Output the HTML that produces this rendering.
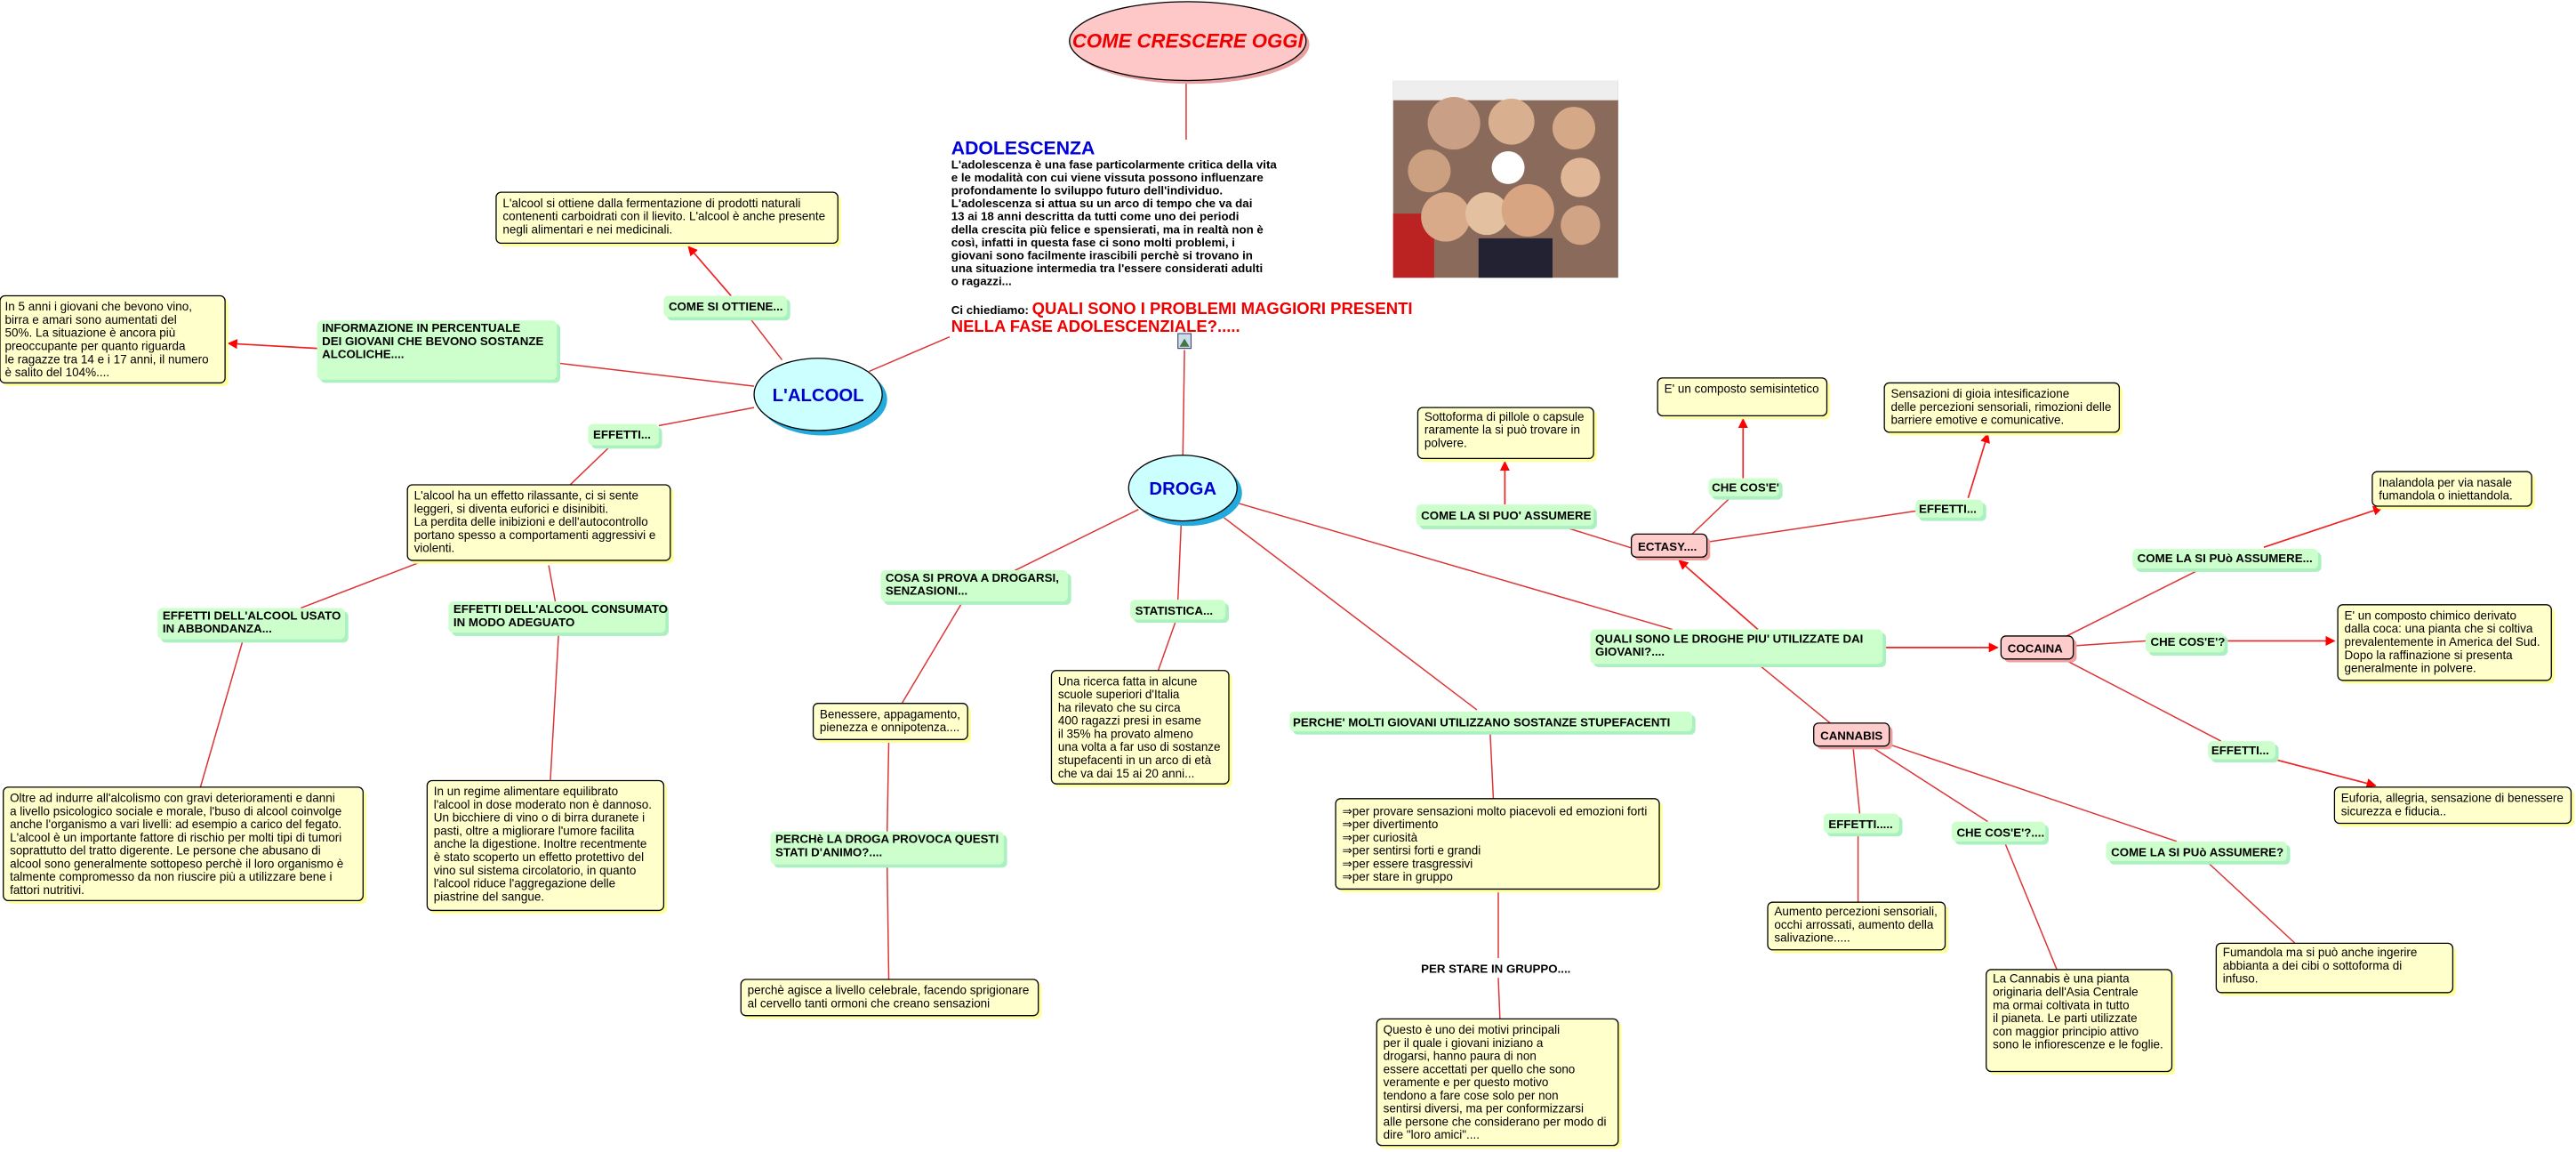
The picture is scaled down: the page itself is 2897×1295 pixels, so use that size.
<!DOCTYPE html>
<html><head><meta charset="utf-8"><style>
html,body{margin:0;padding:0;background:#fff;}
svg{display:block;}
.t{font-family:"Liberation Sans",sans-serif;font-size:7.3px;fill:#000;}
.g{font-family:"Liberation Sans",sans-serif;font-size:7.2px;font-weight:bold;fill:#000;}
.b{font-family:"Liberation Sans",sans-serif;font-size:7.2px;font-weight:bold;fill:#000;}
</style></head><body>
<svg width="2897" height="1295" viewBox="0 0 1568 701" preserveAspectRatio="none" xmlns="http://www.w3.org/2000/svg">
<defs>
<marker id="ar" viewBox="0 0 10 10" refX="9" refY="5" markerWidth="6" markerHeight="6" orient="auto" markerUnits="userSpaceOnUse"><path d="M0,0 L10,5 L0,10 z" fill="#f00"/></marker>
</defs>
<g stroke="#d33" stroke-width="0.8" fill="none">
<line x1="722" y1="49" x2="722" y2="85"/>
<line x1="721" y1="213" x2="720" y2="277"/>
<line x1="529" y1="226" x2="578" y2="205"/>
<line x1="476" y1="219" x2="456" y2="193"/>
<line x1="340" y1="221" x2="459" y2="235"/>
<line x1="401" y1="259" x2="459" y2="248"/>
<line x1="372" y1="271" x2="346" y2="296"/>
<line x1="183" y1="370" x2="256" y2="342"/>
<line x1="334" y1="344" x2="338" y2="366"/>
<line x1="148" y1="389" x2="122" y2="479"/>
<line x1="340" y1="386" x2="335" y2="475"/>
<line x1="693" y1="310" x2="614" y2="349"/>
<line x1="586" y1="366" x2="549" y2="428"/>
<line x1="541" y1="451" x2="540" y2="506"/>
<line x1="540" y1="527" x2="541" y2="596"/>
<line x1="719" y1="318" x2="717" y2="365"/>
<line x1="716" y1="377" x2="705" y2="408"/>
<line x1="745" y1="315" x2="899" y2="432"/>
<line x1="907" y1="445" x2="909" y2="486"/>
<line x1="912" y1="543" x2="912" y2="583"/>
<line x1="912" y1="595" x2="913" y2="620"/>
<line x1="753" y1="306" x2="1018" y2="383"/>
<line x1="995" y1="334" x2="950" y2="320"/>
<line x1="1053" y1="303" x2="1030" y2="325"/>
<line x1="1038" y1="330" x2="1166" y2="311"/>
<line x1="1258" y1="387" x2="1340" y2="346"/>
<line x1="1262" y1="393" x2="1306" y2="390"/>
<line x1="1256" y1="401" x2="1352" y2="451"/>
<line x1="1070" y1="404" x2="1114" y2="440"/>
<line x1="1128" y1="455" x2="1132" y2="495"/>
<line x1="1131" y1="508" x2="1131" y2="549"/>
<line x1="1140" y1="455" x2="1210" y2="500"/>
<line x1="1220" y1="512" x2="1252" y2="590"/>
<line x1="1150" y1="453" x2="1325" y2="512"/>
<line x1="1343" y1="524" x2="1397" y2="574"/>
</g>
<g stroke="#e22" stroke-width="0.9" fill="none" marker-end="url(#ar)">
<line x1="445" y1="180" x2="419" y2="150"/>
<line x1="193" y1="212" x2="139" y2="209"/>
<line x1="1147" y1="394" x2="1216" y2="394"/>
<line x1="1070" y1="383" x2="1022" y2="341"/>
<line x1="916" y1="307" x2="916" y2="281"/>
<line x1="1061" y1="291" x2="1061" y2="255"/>
<line x1="1198" y1="303" x2="1210" y2="264"/>
<line x1="1378" y1="333" x2="1450" y2="309"/>
<line x1="1356" y1="390" x2="1421" y2="390"/>
<line x1="1384" y1="462" x2="1446" y2="478"/>
</g>

<!-- root -->
<ellipse cx="725" cy="27" rx="72" ry="24" fill="#e8a0a0"/>
<ellipse cx="723" cy="25" rx="72" ry="24" fill="#ffc8c8" stroke="#000" stroke-width="0.7"/>
<text x="723" y="29" text-anchor="middle" style="font-family:'Liberation Sans',sans-serif;font-size:12px;font-weight:bold;font-style:italic;fill:#e00">COME CRESCERE OGGI</text>

<!-- adolescenza -->
<text x="579" y="94" style="font-family:'Liberation Sans',sans-serif;font-size:11.5px;font-weight:bold;fill:#00d">ADOLESCENZA</text>
<g class="b">
<text x="579" y="102.5">L'adolescenza è una fase particolarmente critica della vita</text>
<text x="579" y="110.4">e le modalità con cui viene vissuta possono influenzare</text>
<text x="579" y="118.3">profondamente lo sviluppo futuro dell'individuo.</text>
<text x="579" y="126.2">L'adolescenza si attua su un arco di tempo che va dai</text>
<text x="579" y="134.1">13 ai 18 anni descritta da tutti come uno dei periodi</text>
<text x="579" y="142">della crescita più felice e spensierati, ma in realtà non è</text>
<text x="579" y="149.9">così, infatti in questa fase ci sono molti problemi, i</text>
<text x="579" y="157.8">giovani sono facilmente irascibili perchè si trovano in</text>
<text x="579" y="165.7">una situazione intermedia tra l'essere considerati adulti</text>
<text x="579" y="173.6">o ragazzi...</text>
<text x="579" y="191">Ci chiediamo: <tspan style="font-size:10px;fill:#e00">QUALI SONO I PROBLEMI MAGGIORI PRESENTI</tspan></text>
</g>
<text x="579" y="202" style="font-family:'Liberation Sans',sans-serif;font-size:10px;font-weight:bold;fill:#e00">NELLA FASE ADOLESCENZIALE?.....</text>
<rect x="717" y="203" width="8" height="9" fill="#cde" stroke="#446" stroke-width="0.6"/>
<path d="M718,211 L721,206 L724,211 z" fill="#474"/>

<!-- photo -->
<rect x="848" y="49" width="137" height="120" fill="#8a6a5a"/>
<rect x="848" y="49" width="137" height="12" fill="#eee"/>
<rect x="848" y="130" width="25" height="39" fill="#b22"/>
<rect x="900" y="145" width="45" height="24" fill="#223"/>
<circle cx="885" cy="75" r="16" fill="#c9a085"/>
<circle cx="920" cy="74" r="14" fill="#d8b090"/>
<circle cx="958" cy="78" r="13" fill="#d5a888"/>
<circle cx="870" cy="104" r="13" fill="#caa080"/>
<circle cx="962" cy="108" r="12" fill="#e0b898"/>
<circle cx="880" cy="132" r="15" fill="#d9aa8a"/>
<circle cx="905" cy="130" r="13" fill="#e3c0a0"/>
<circle cx="930" cy="128" r="16" fill="#d8a583"/>
<circle cx="962" cy="137" r="12" fill="#d2a486"/>
<circle cx="918" cy="102" r="10" fill="#fff"/>

<!-- L'ALCOOL -->
<ellipse cx="501" cy="243" rx="39" ry="22" fill="#22aadd"/>
<ellipse cx="498" cy="240" rx="39" ry="22" fill="#ccffff" stroke="#000" stroke-width="0.7"/>
<text x="498" y="244" text-anchor="middle" style="font-family:'Liberation Sans',sans-serif;font-size:11px;font-weight:bold;fill:#00c">L'ALCOOL</text>
<!-- DROGA -->
<ellipse cx="723" cy="300" rx="33" ry="20" fill="#22aadd"/>
<ellipse cx="720" cy="297" rx="33" ry="20" fill="#ccffff" stroke="#000" stroke-width="0.7"/>
<text x="720" y="301" text-anchor="middle" style="font-family:'Liberation Sans',sans-serif;font-size:11px;font-weight:bold;fill:#00c">DROGA</text>

<!-- green labels -->
<g fill="#aaf0c0">
<rect x="406" y="182" width="75" height="13" rx="3"/>
<rect x="195" y="197" width="146" height="36" rx="3"/>
<rect x="360" y="260" width="43" height="13" rx="3"/>
<rect x="98" y="372" width="114" height="19" rx="3"/>
<rect x="275" y="368" width="132" height="19" rx="3"/>
<rect x="538" y="349" width="114" height="19" rx="3"/>
<rect x="471" y="508" width="142" height="20" rx="3"/>
<rect x="690" y="367" width="58" height="12" rx="3"/>
<rect x="787" y="435" width="245" height="12" rx="3"/>
<rect x="970" y="385" width="178" height="21" rx="3"/>
<rect x="864" y="309" width="108" height="13" rx="3"/>
<rect x="1042" y="293" width="43" height="11" rx="3"/>
<rect x="1168" y="306" width="41" height="11" rx="3"/>
<rect x="1300" y="336" width="113" height="12" rx="3"/>
<rect x="1308" y="387" width="48" height="12" rx="3"/>
<rect x="1346" y="453" width="41" height="11" rx="3"/>
<rect x="1112" y="497" width="46" height="12" rx="3"/>
<rect x="1190" y="502" width="57" height="12" rx="3"/>
<rect x="1284" y="514" width="110" height="12" rx="3"/>
</g>
<g fill="#ccffcc">
<rect x="404" y="180" width="75" height="13" rx="3"/>
<rect x="193" y="195" width="146" height="36" rx="3"/>
<rect x="358" y="258" width="43" height="13" rx="3"/>
<rect x="96" y="370" width="114" height="19" rx="3"/>
<rect x="273" y="366" width="132" height="19" rx="3"/>
<rect x="536" y="347" width="114" height="19" rx="3"/>
<rect x="469" y="506" width="142" height="20" rx="3"/>
<rect x="688" y="365" width="58" height="12" rx="3"/>
<rect x="785" y="433" width="245" height="12" rx="3"/>
<rect x="968" y="383" width="178" height="21" rx="3"/>
<rect x="862" y="307" width="108" height="13" rx="3"/>
<rect x="1040" y="291" width="43" height="11" rx="3"/>
<rect x="1166" y="304" width="41" height="11" rx="3"/>
<rect x="1298" y="334" width="113" height="12" rx="3"/>
<rect x="1306" y="385" width="48" height="12" rx="3"/>
<rect x="1344" y="451" width="41" height="11" rx="3"/>
<rect x="1110" y="495" width="46" height="12" rx="3"/>
<rect x="1188" y="500" width="57" height="12" rx="3"/>
<rect x="1282" y="512" width="110" height="12" rx="3"/>
</g>
<g class="g">
<text x="407" y="189">COME SI OTTIENE...</text>
<text x="196" y="202">INFORMAZIONE IN PERCENTUALE</text>
<text x="196" y="210">DEI GIOVANI CHE BEVONO SOSTANZE</text>
<text x="196" y="218">ALCOLICHE....</text>
<text x="361" y="267">EFFETTI...</text>
<text x="99" y="377">EFFETTI DELL'ALCOOL USATO</text>
<text x="99" y="385">IN ABBONDANZA...</text>
<text x="276" y="373">EFFETTI DELL'ALCOOL CONSUMATO</text>
<text x="276" y="381">IN MODO ADEGUATO</text>
<text x="539" y="354">COSA SI PROVA A DROGARSI,</text>
<text x="539" y="362">SENZASIONI...</text>
<text x="472" y="513">PERCHè LA DROGA PROVOCA QUESTI</text>
<text x="472" y="521">STATI D'ANIMO?....</text>
<text x="691" y="374">STATISTICA...</text>
<text x="787" y="442">PERCHE' MOLTI GIOVANI UTILIZZANO SOSTANZE STUPEFACENTI</text>
<text x="971" y="391">QUALI SONO LE DROGHE PIU' UTILIZZATE DAI</text>
<text x="971" y="399">GIOVANI?....</text>
<text x="865" y="316">COME LA SI PUO' ASSUMERE</text>
<text x="1042" y="299">CHE COS'E'</text>
<text x="1168" y="312">EFFETTI...</text>
<text x="1301" y="342">COME LA SI PUò ASSUMERE...</text>
<text x="1309" y="393">CHE COS'E'?</text>
<text x="1346" y="459">EFFETTI...</text>
<text x="1113" y="504">EFFETTI.....</text>
<text x="1191" y="509">CHE COS'E'?....</text>
<text x="1285" y="521">COME LA SI PUò ASSUMERE?</text>
<text x="865" y="592">PER STARE IN GRUPPO....</text>
</g>

<!-- pink boxes -->
<g fill="#f0a0a0"><rect x="995" y="327" width="46" height="14" rx="3"/><rect x="1220" y="389" width="44" height="14" rx="3"/><rect x="1106" y="442" width="46" height="14" rx="3"/></g>
<g fill="#ffcccc" stroke="#000" stroke-width="0.7"><rect x="993" y="325" width="46" height="14" rx="3"/><rect x="1218" y="387" width="44" height="14" rx="3"/><rect x="1104" y="440" width="46" height="14" rx="3"/></g>
<g class="g"><text x="997" y="335">ECTASY....</text><text x="1222" y="397">COCAINA</text><text x="1108" y="450">CANNABIS</text></g>

<!-- yellow boxes -->
<g fill="#ffff99">
<rect x="304" y="119" width="208" height="31" rx="3"/>
<rect x="2" y="182" width="137" height="53" rx="3"/>
<rect x="250" y="297" width="160" height="46" rx="3"/>
<rect x="4" y="481" width="219" height="69" rx="3"/>
<rect x="262" y="477" width="144" height="79" rx="3"/>
<rect x="497" y="430" width="94" height="22" rx="3"/>
<rect x="453" y="598" width="181" height="22" rx="3"/>
<rect x="642" y="410" width="108" height="69" rx="3"/>
<rect x="815" y="488" width="197" height="55" rx="3"/>
<rect x="840" y="622" width="147" height="77" rx="3"/>
<rect x="865" y="250" width="107" height="31" rx="3"/>
<rect x="1011" y="232" width="103" height="23" rx="3"/>
<rect x="1149" y="235" width="143" height="30" rx="3"/>
<rect x="1446" y="289" width="97" height="21" rx="3"/>
<rect x="1425" y="370" width="130" height="46" rx="3"/>
<rect x="1423" y="481" width="144" height="22" rx="3"/>
<rect x="1078" y="551" width="108" height="29" rx="3"/>
<rect x="1211" y="592" width="113" height="62" rx="3"/>
<rect x="1351" y="576" width="144" height="30" rx="3"/>
</g>
<g fill="#ffffcc" stroke="#000" stroke-width="0.7">
<rect x="302" y="117" width="208" height="31" rx="3"/>
<rect x="0" y="180" width="137" height="53" rx="3"/>
<rect x="248" y="295" width="160" height="46" rx="3"/>
<rect x="2" y="479" width="219" height="69" rx="3"/>
<rect x="260" y="475" width="144" height="79" rx="3"/>
<rect x="495" y="428" width="94" height="22" rx="3"/>
<rect x="451" y="596" width="181" height="22" rx="3"/>
<rect x="640" y="408" width="108" height="69" rx="3"/>
<rect x="813" y="486" width="197" height="55" rx="3"/>
<rect x="838" y="620" width="147" height="77" rx="3"/>
<rect x="863" y="248" width="107" height="31" rx="3"/>
<rect x="1009" y="230" width="103" height="23" rx="3"/>
<rect x="1147" y="233" width="143" height="30" rx="3"/>
<rect x="1444" y="287" width="97" height="21" rx="3"/>
<rect x="1423" y="368" width="130" height="46" rx="3"/>
<rect x="1421" y="479" width="144" height="22" rx="3"/>
<rect x="1076" y="549" width="108" height="29" rx="3"/>
<rect x="1209" y="590" width="113" height="62" rx="3"/>
<rect x="1349" y="574" width="144" height="30" rx="3"/>
</g>
<g class="t">
<text x="306" y="126">L'alcool si ottiene dalla fermentazione di prodotti naturali</text>
<text x="306" y="134">contenenti carboidrati con il lievito. L'alcool è anche presente</text>
<text x="306" y="142">negli alimentari e nei medicinali.</text>

<text x="3" y="189">In 5 anni i giovani che bevono vino,</text>
<text x="3" y="197">birra e amari sono aumentati del</text>
<text x="3" y="205">50%. La situazione è ancora più</text>
<text x="3" y="213">preoccupante per quanto riguarda</text>
<text x="3" y="221">le ragazze tra 14 e i 17 anni, il numero</text>
<text x="3" y="229">è salito del 104%....</text>

<text x="252" y="304">L'alcool ha un effetto rilassante, ci si sente</text>
<text x="252" y="312">leggeri, si diventa euforici e disinibiti.</text>
<text x="252" y="320">La perdita delle inibizioni e dell'autocontrollo</text>
<text x="252" y="328">portano spesso a comportamenti aggressivi e</text>
<text x="252" y="336">violenti.</text>

<text x="6" y="488">Oltre ad indurre all'alcolismo con gravi deterioramenti e danni</text>
<text x="6" y="496">a livello psicologico sociale e morale, l'buso di alcool coinvolge</text>
<text x="6" y="504">anche l'organismo a vari livelli: ad esempio a carico del fegato.</text>
<text x="6" y="512">L'alcool è un importante fattore di rischio per molti tipi di tumori</text>
<text x="6" y="520">soprattutto del tratto digerente. Le persone che abusano di</text>
<text x="6" y="528">alcool sono generalmente sottopeso perchè il loro organismo è</text>
<text x="6" y="536">talmente compromesso da non riuscire più a utilizzare bene i</text>
<text x="6" y="544">fattori nutritivi.</text>

<text x="264" y="484">In un regime alimentare equilibrato</text>
<text x="264" y="492">l'alcool in dose moderato non è dannoso.</text>
<text x="264" y="500">Un bicchiere di vino o di birra duranete i</text>
<text x="264" y="508">pasti, oltre a migliorare l'umore facilita</text>
<text x="264" y="516">anche la digestione. Inoltre recentmente</text>
<text x="264" y="524">è stato scoperto un effetto protettivo del</text>
<text x="264" y="532">vino sul sistema circolatorio, in quanto</text>
<text x="264" y="540">l'alcool riduce l'aggregazione delle</text>
<text x="264" y="548">piastrine del sangue.</text>

<text x="499" y="437">Benessere, appagamento,</text>
<text x="499" y="445">pienezza e onnipotenza....</text>
<text x="455" y="605">perchè agisce a livello celebrale, facendo sprigionare</text>
<text x="455" y="613">al cervello tanti ormoni che creano sensazioni</text>

<text x="644" y="417">Una ricerca fatta in alcune</text>
<text x="644" y="425">scuole superiori d'Italia</text>
<text x="644" y="433">ha rilevato che su circa</text>
<text x="644" y="441">400 ragazzi presi in esame</text>
<text x="644" y="449">il 35% ha provato almeno</text>
<text x="644" y="457">una volta a far uso di sostanze</text>
<text x="644" y="465">stupefacenti in un arco di età</text>
<text x="644" y="473">che va dai 15 ai 20 anni...</text>

<text x="817" y="496">⇒per provare sensazioni molto piacevoli ed emozioni forti</text>
<text x="817" y="504">⇒per divertimento</text>
<text x="817" y="512">⇒per curiosità</text>
<text x="817" y="520">⇒per sentirsi forti e grandi</text>
<text x="817" y="528">⇒per essere trasgressivi</text>
<text x="817" y="536">⇒per stare in gruppo</text>

<text x="842" y="629">Questo è uno dei motivi principali</text>
<text x="842" y="637">per il quale i giovani iniziano a</text>
<text x="842" y="645">drogarsi, hanno paura di non</text>
<text x="842" y="653">essere accettati per quello che sono</text>
<text x="842" y="661">veramente e per questo motivo</text>
<text x="842" y="669">tendono a fare cose solo per non</text>
<text x="842" y="677">sentirsi diversi, ma per conformizzarsi</text>
<text x="842" y="685">alle persone che considerano per modo di</text>
<text x="842" y="693">dire "loro amici"....</text>

<text x="867" y="256">Sottoforma di pillole o capsule</text>
<text x="867" y="264">raramente la si può trovare in</text>
<text x="867" y="272">polvere.</text>
<text x="1013" y="239">E' un composto semisintetico</text>
<text x="1151" y="242">Sensazioni di gioia intesificazione</text>
<text x="1151" y="250">delle percezioni sensoriali, rimozioni delle</text>
<text x="1151" y="258">barriere emotive e comunicative.</text>
<text x="1448" y="296">Inalandola per via nasale</text>
<text x="1448" y="304">fumandola o iniettandola.</text>
<text x="1427" y="377">E' un composto chimico derivato</text>
<text x="1427" y="385">dalla coca: una pianta che si coltiva</text>
<text x="1427" y="393">prevalentemente in America del Sud.</text>
<text x="1427" y="401">Dopo la raffinazione si presenta</text>
<text x="1427" y="409">generalmente in polvere.</text>
<text x="1425" y="488">Euforia, allegria, sensazione di benessere</text>
<text x="1425" y="496">sicurezza e fiducia..</text>
<text x="1080" y="557">Aumento percezioni sensoriali,</text>
<text x="1080" y="565">occhi arrossati, aumento della</text>
<text x="1080" y="573">salivazione.....</text>
<text x="1213" y="598">La Cannabis è una pianta</text>
<text x="1213" y="606">originaria dell'Asia Centrale</text>
<text x="1213" y="614">ma ormai coltivata in tutto</text>
<text x="1213" y="622">il pianeta. Le parti utilizzate</text>
<text x="1213" y="630">con maggior principio attivo</text>
<text x="1213" y="638">sono le infiorescenze e le foglie.</text>
<text x="1353" y="582">Fumandola ma si può anche ingerire</text>
<text x="1353" y="590">abbianta a dei cibi o sottoforma di</text>
<text x="1353" y="598">infuso.</text>
</g>
</svg>
</body></html>
